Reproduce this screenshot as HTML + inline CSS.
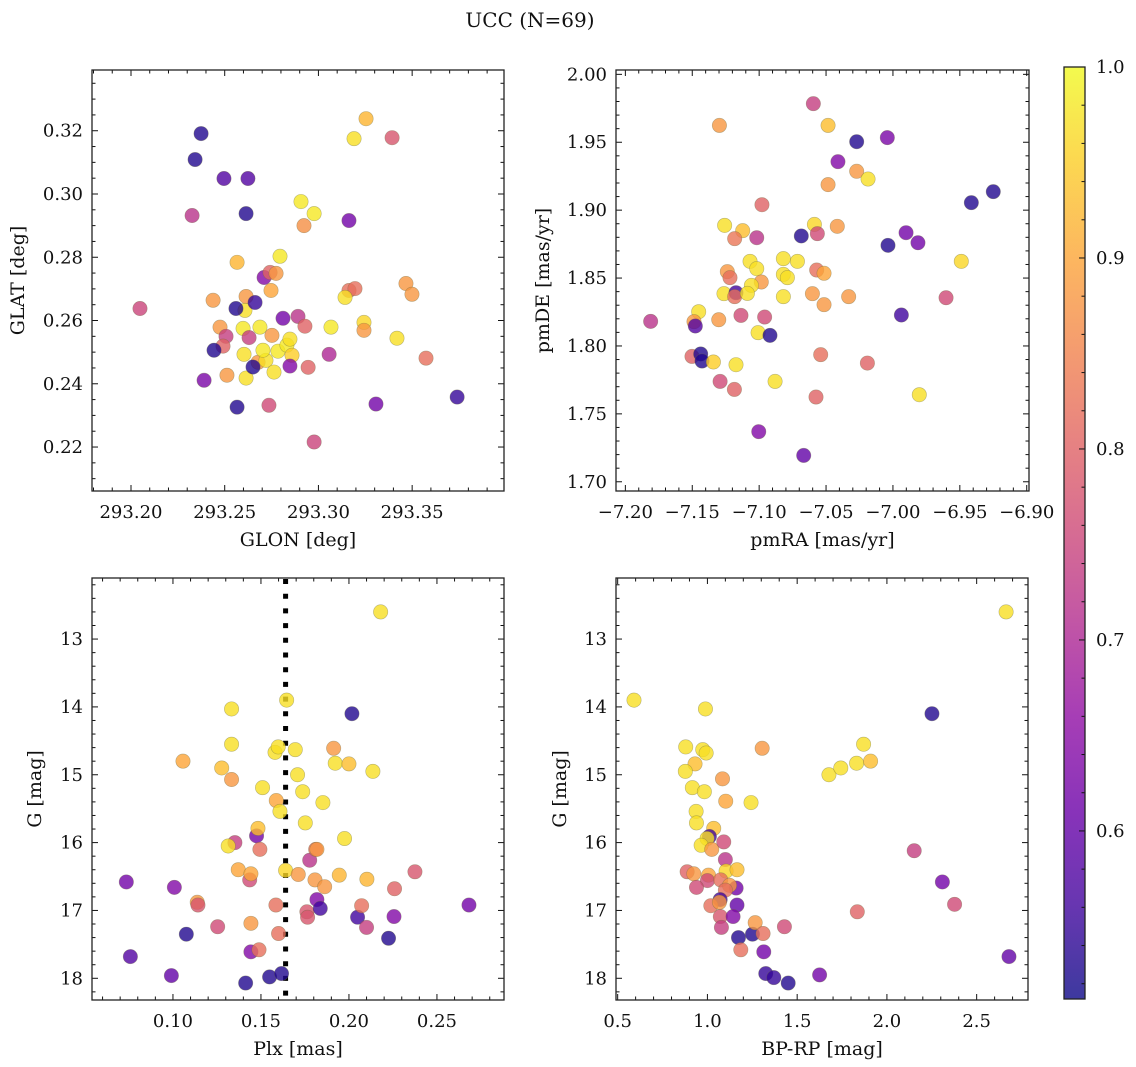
<!DOCTYPE html>
<html><head><meta charset="utf-8"><title>UCC (N=69)</title>
<style>
html,body{margin:0;padding:0;background:#fff;}
svg{display:block;font-family:"DejaVu Serif","Liberation Serif",serif;}
</style></head>
<body>
<svg id="fig" width="1136" height="1067" viewBox="0 0 1136 1067" xmlns="http://www.w3.org/2000/svg">
<rect x="0" y="0" width="1136" height="1067" fill="#fff"/>
<text x="530" y="27" font-size="20" text-anchor="middle" fill="#111">UCC (N=69)</text>
</svg>
<script>
// ---------- Panel 1: GLON vs GLAT ----------
const glonP1 = [293.2374,293.2342,293.2326,293.2496,293.2624,293.2614,293.2048,293.2438,293.2566,293.2614,293.2608,293.2560,293.2662,293.2710,293.2742,293.2774,293.2795,293.2747,293.2475,293.2507,293.2491,293.2443,293.2390,293.2512,293.2566,293.2598,293.2630,293.2603,293.2614,293.2688,293.2678,293.2720,293.2704,293.2752,293.2763,293.2736,293.2784,293.2811,293.2832,293.2848,293.2859,293.2848,293.2907,293.2977,293.2923,293.2891,293.2928,293.2945,293.2977,293.3067,293.3057,293.3163,293.3190,293.3254,293.3163,293.3195,293.3142,293.3243,293.3243,293.3393,293.3467,293.3499,293.3419,293.3574,293.3307,293.3740,293.2651];
const glatP1 = [0.3191,0.3109,0.2932,0.3049,0.3049,0.2938,0.2638,0.2664,0.2784,0.2676,0.2632,0.2638,0.2657,0.2736,0.2752,0.2749,0.2803,0.2695,0.2579,0.2550,0.2519,0.2506,0.2411,0.2427,0.2326,0.2575,0.2546,0.2493,0.2418,0.2579,0.2468,0.2474,0.2506,0.2553,0.2437,0.2332,0.2503,0.2607,0.2522,0.2541,0.2490,0.2456,0.2976,0.2938,0.2900,0.2613,0.2582,0.2452,0.2216,0.2579,0.2493,0.2916,0.3175,0.3238,0.2695,0.2701,0.2673,0.2594,0.2569,0.3178,0.2717,0.2683,0.2544,0.2481,0.2336,0.2358,0.2453];
const probP1 = [0.53,0.53,0.72,0.58,0.58,0.53,0.75,0.88,0.92,0.88,0.97,0.53,0.55,0.64,0.80,0.88,0.98,0.90,0.88,0.74,0.80,0.53,0.63,0.88,0.53,0.98,0.74,0.97,0.97,0.98,0.88,0.97,0.98,0.88,0.97,0.76,0.98,0.62,0.98,0.97,0.95,0.64,0.98,0.98,0.87,0.72,0.80,0.80,0.75,0.98,0.70,0.62,0.97,0.92,0.82,0.82,0.97,0.96,0.88,0.78,0.88,0.88,0.97,0.82,0.62,0.55,0.53];

// ---------- Panel 2: pmRA vs pmDE ----------
const pmraP2 = [-7.1811,-7.1297,-7.0595,-7.0485,-7.0271,-7.0042,-7.0411,-7.0271,-7.0186,-7.0485,-6.9250,-6.9414,-7.0979,-7.1258,-7.1123,-7.1183,-7.1018,-7.0685,-7.0587,-7.0565,-7.0416,-7.0037,-6.9902,-6.9813,-6.9489,-7.1068,-7.1018,-7.1238,-7.1218,-7.0819,-7.0714,-7.0819,-7.0789,-7.0570,-7.0515,-7.0984,-7.1058,-7.1263,-7.1173,-7.1183,-7.1088,-7.0819,-7.0602,-7.0331,-7.0515,-6.9603,-7.1452,-7.1487,-7.1477,-7.1302,-7.1136,-7.0959,-6.9937,-7.1008,-7.0919,-7.1502,-7.1437,-7.1427,-7.1342,-7.1173,-7.0540,-7.0191,-7.1292,-7.1185,-7.0881,-7.0575,-6.9803,-7.1003,-7.0667];
const pmdeP2 = [1.8181,1.9624,1.9784,1.9624,1.9504,1.9534,1.9357,1.9286,1.9229,1.9188,1.9136,1.9055,1.9040,1.8888,1.8849,1.8790,1.8797,1.8810,1.8895,1.8827,1.8881,1.8741,1.8834,1.8760,1.8623,1.8623,1.8569,1.8547,1.8503,1.8643,1.8623,1.8527,1.8503,1.8559,1.8535,1.8471,1.8446,1.8385,1.8392,1.8363,1.8387,1.8363,1.8385,1.8363,1.8304,1.8355,1.8252,1.8179,1.8147,1.8193,1.8225,1.8213,1.8228,1.8098,1.8078,1.7923,1.7941,1.7889,1.7882,1.7862,1.7936,1.7874,1.7739,1.7680,1.7739,1.7624,1.7641,1.7369,1.7194];
const probP2 = [0.72,0.88,0.74,0.93,0.53,0.63,0.64,0.88,0.97,0.88,0.53,0.53,0.80,0.97,0.93,0.83,0.72,0.53,0.96,0.76,0.88,0.53,0.62,0.62,0.96,0.97,0.97,0.88,0.82,0.97,0.97,0.97,0.97,0.82,0.90,0.88,0.97,0.97,0.56,0.82,0.97,0.97,0.88,0.88,0.88,0.76,0.97,0.88,0.58,0.88,0.76,0.76,0.56,0.97,0.53,0.80,0.53,0.53,0.95,0.97,0.82,0.80,0.76,0.80,0.97,0.80,0.97,0.64,0.60];

// ---------- Panel 3: Plx vs G ----------
const plxP3 = [0.0735,0.0758,0.1008,0.0991,0.1076,0.1057,0.1138,0.1142,0.1254,0.1277,0.1333,0.1333,0.1333,0.1352,0.1314,0.1371,0.1436,0.1443,0.1443,0.1443,0.1489,0.1413,0.1475,0.1483,0.1494,0.1509,0.1549,0.1580,0.1598,0.1587,0.1608,0.1585,0.1600,0.1617,0.1646,0.1640,0.1695,0.1708,0.1737,0.1752,0.1712,0.1777,0.1811,0.1818,0.1807,0.1761,0.1765,0.1818,0.1837,0.1852,0.1862,0.1913,0.1922,0.1945,0.1975,0.2000,0.2017,0.2049,0.2072,0.2100,0.2102,0.2136,0.2180,0.2225,0.2256,0.2259,0.2375,0.2682];
const gP3 = [16.58,17.68,16.66,17.96,17.35,14.80,16.88,16.92,17.24,14.90,14.03,14.55,15.07,16.00,16.05,16.40,16.55,16.46,17.19,17.61,17.58,18.07,15.90,15.79,16.10,15.19,17.98,14.67,14.59,15.38,15.54,16.92,17.34,17.93,13.90,16.41,14.63,15.00,15.25,15.71,16.47,16.26,16.10,16.10,16.55,17.02,17.10,16.84,16.97,15.41,16.65,14.61,14.83,16.48,15.94,14.84,14.10,17.10,16.93,17.25,16.54,14.95,12.60,17.41,17.09,16.68,16.43,16.92];
const probP3 = [0.62,0.58,0.64,0.60,0.53,0.90,0.88,0.78,0.76,0.93,0.97,0.97,0.88,0.74,0.97,0.90,0.76,0.90,0.88,0.64,0.82,0.53,0.62,0.93,0.82,0.97,0.53,0.97,0.97,0.90,0.97,0.82,0.82,0.53,0.97,0.96,0.97,0.97,0.97,0.97,0.88,0.72,0.82,0.88,0.88,0.78,0.78,0.64,0.56,0.97,0.88,0.88,0.97,0.92,0.97,0.93,0.53,0.56,0.82,0.74,0.92,0.97,0.97,0.53,0.64,0.80,0.78,0.62];
const plxRef = 0.164;

// ---------- Panel 4: BP-RP vs G ----------
const bprpP4 = [0.591,0.989,0.879,0.974,0.993,0.931,0.877,1.305,1.084,0.916,0.983,1.102,1.243,0.937,0.939,1.035,1.011,0.998,0.965,1.024,1.091,1.100,0.887,0.924,1.006,1.000,0.939,1.104,1.165,1.074,1.160,1.123,1.100,1.071,1.019,1.067,1.165,1.072,1.143,1.078,1.173,1.186,1.251,1.266,1.310,1.314,1.325,1.370,1.450,1.429,1.625,1.835,1.677,1.743,1.831,1.870,1.909,2.152,2.251,2.309,2.377,2.664,2.680];
const gP4 = [13.90,14.03,14.59,14.63,14.68,14.84,14.95,14.61,15.06,15.19,15.25,15.39,15.41,15.54,15.71,15.79,15.91,15.94,16.04,16.10,15.99,16.25,16.43,16.46,16.48,16.56,16.66,16.42,16.40,16.55,16.67,16.63,16.70,16.84,16.93,16.88,16.92,17.09,17.09,17.25,17.40,17.58,17.35,17.18,17.34,17.61,17.93,17.99,18.07,17.24,17.95,17.02,15.00,14.90,14.83,14.55,14.80,16.12,14.10,16.58,16.91,12.60,17.68];
const probP4 = [0.97,0.97,0.97,0.97,0.97,0.93,0.97,0.88,0.88,0.97,0.97,0.90,0.97,0.97,0.97,0.93,0.56,0.97,0.97,0.88,0.76,0.72,0.80,0.88,0.90,0.76,0.76,0.96,0.93,0.82,0.62,0.88,0.82,0.56,0.82,0.88,0.60,0.78,0.64,0.74,0.53,0.82,0.53,0.88,0.82,0.62,0.55,0.55,0.53,0.76,0.62,0.80,0.97,0.97,0.97,0.97,0.93,0.74,0.53,0.62,0.76,0.97,0.60];

// ---------- Colorbar ----------
const cbMin = 0.512, cbMax = 1.0;
const cbTicks = [0.6,0.7,0.8,0.9,1.0];

const NS = "http://www.w3.org/2000/svg";
const svg = document.getElementById('fig');
const plasmaStops = [[0,[13,8,135]],[0.1,[65,4,157]],[0.2,[106,0,168]],[0.3,[143,13,164]],[0.4,[177,42,144]],[0.5,[204,71,120]],[0.6,[225,100,98]],[0.7,[242,132,75]],[0.8,[252,166,54]],[0.9,[252,206,37]],[1,[240,249,33]]];
function plasma(t){
  t=Math.max(0,Math.min(1,t));
  for(let i=1;i<plasmaStops.length;i++){
    if(t<=plasmaStops[i][0]){
      const a=plasmaStops[i-1],b=plasmaStops[i],f=(t-a[0])/(b[0]-a[0]);
      const c=a[1].map((v,k)=>Math.round(v+(b[1][k]-v)*f));
      return 'rgb('+c.join(',')+')';
    }
  }
  return 'rgb(240,249,33)';
}
function el(tag,attrs,parent){
  const e=document.createElementNS(NS,tag);
  for(const k in attrs) e.setAttribute(k,attrs[k]);
  (parent||svg).appendChild(e);
  return e;
}
function fmtMinus(s){return s.replace('-','\u2212');}

function makeAxes(cfg){
  const g=el('g',{});
  
  
  const X=v=>cfg.bx0+(v-cfg.xlim[0])/(cfg.xlim[1]-cfg.xlim[0])*(cfg.bx1-cfg.bx0);
  const Y=v=>cfg.by1-(v-cfg.ylim[0])/(cfg.ylim[1]-cfg.ylim[0])*(cfg.by1-cfg.by0);
  const tickG=el('g',{stroke:'#111','stroke-width':'1'},g);
  
  
  const lo=Math.min(cfg.xlim[0],cfg.xlim[1]), hi=Math.max(cfg.xlim[0],cfg.xlim[1]);
  for(let v=Math.ceil(lo/cfg.xminor-1e-6)*cfg.xminor; v<=hi+1e-9; v+=cfg.xminor){
    const x=X(v); const isMaj=cfg.xticks.some(t=>Math.abs(t-v)<cfg.xminor/10);
    const L=isMaj?6:3.5;
    el('line',{x1:x,x2:x,y1:cfg.by1,y2:cfg.by1-L},tickG);
    el('line',{x1:x,x2:x,y1:cfg.by0,y2:cfg.by0+L},tickG);
  }
  const ylo=Math.min(cfg.ylim[0],cfg.ylim[1]), yhi=Math.max(cfg.ylim[0],cfg.ylim[1]);
  for(let v=Math.ceil(ylo/cfg.yminor-1e-6)*cfg.yminor; v<=yhi+1e-9; v+=cfg.yminor){
    const y=Y(v); const isMaj=cfg.yticks.some(t=>Math.abs(t-v)<cfg.yminor/10);
    const L=isMaj?6:3.5;
    el('line',{x1:cfg.bx0,x2:cfg.bx0+L,y1:y,y2:y},tickG);
    el('line',{x1:cfg.bx1,x2:cfg.bx1-L,y1:y,y2:y},tickG);
  }
  cfg.xticks.forEach(v=>{
    const t=el('text',{x:X(v),y:cfg.by1+27,'font-size':'18','text-anchor':'middle',fill:'#111'},g);
    
    
    t.textContent=fmtMinus(v.toFixed(cfg.xdec));
  });
  cfg.yticks.forEach(v=>{
    const t=el('text',{x:cfg.bx0-9,y:Y(v)+6,'font-size':'18','text-anchor':'end',fill:'#111'},g);
    
    
    t.textContent=fmtMinus(v.toFixed(cfg.ydec));
  });
  const xl=el('text',{x:(cfg.bx0+cfg.bx1)/2,y:cfg.by1+55,'font-size':'19','text-anchor':'middle',fill:'#111'},g);
  
  
  xl.textContent=cfg.xlabel;
  const yc=(cfg.by0+cfg.by1)/2;
  const yl=el('text',{x:cfg.ylx,y:yc,'font-size':'19','text-anchor':'middle',fill:'#111',transform:'rotate(-90 '+cfg.ylx+' '+yc+')'},g);
  
  
  yl.textContent=cfg.ylabel;
  const cid='clip-'+cfg.name;
  const cp=el('clipPath',{id:cid},g);
  el('rect',{x:cfg.bx0,y:cfg.by0,width:cfg.bx1-cfg.bx0,height:cfg.by1-cfg.by0},cp);
  const pg=el('g',{'clip-path':'url(#'+cid+')'},g);
  
  
  if(cfg.vline!==undefined){
    const vl=el('line',{x1:X(cfg.vline),x2:X(cfg.vline),y1:cfg.by0+1,y2:cfg.by1,stroke:'#000','stroke-width':'5','stroke-dasharray':'5 9.7'},pg);
    
    
  }
  cfg.xs.forEach((xv,i)=>{
    const c=el('circle',{cx:X(xv),cy:Y(cfg.ys[i]),r:7.2,fill:plasma((cfg.cs[i]-cbMin)/(cbMax-cbMin)),'fill-opacity':'0.8',stroke:'#6b6b40','stroke-opacity':'0.45','stroke-width':'0.6'},pg);
    
    
  });
  el('rect',{x:cfg.bx0,y:cfg.by0,width:cfg.bx1-cfg.bx0,height:cfg.by1-cfg.by0,fill:'none',stroke:'#222','stroke-width':'1.3'},g);
}

makeAxes({name:'glon-glat-panel',bx0:92,bx1:504,by0:70,by1:491,xlim:[293.1792,293.3990],ylim:[0.2061,0.3392],
  xticks:[293.20,293.25,293.30,293.35],yticks:[0.22,0.24,0.26,0.28,0.30,0.32],xminor:0.01,yminor:0.005,xdec:2,ydec:2,
  xlabel:'GLON [deg]',ylabel:'GLAT [deg]',ylx:24,xs:glonP1,ys:glatP1,cs:probP1});
makeAxes({name:'pm-panel',bx0:616,bx1:1029,by0:70,by1:491,xlim:[-7.2070,-6.8983],ylim:[1.6932,2.0032],
  xticks:[-7.20,-7.15,-7.10,-7.05,-7.00,-6.95,-6.90],yticks:[1.70,1.75,1.80,1.85,1.90,1.95,2.00],xminor:0.01,yminor:0.01,xdec:2,ydec:2,
  xlabel:'pmRA [mas/yr]',ylabel:'pmDE [mas/yr]',ylx:549,xs:pmraP2,ys:pmdeP2,cs:probP2});
makeAxes({name:'plx-g-panel',bx0:92,bx1:504,by0:578,by1:1000,xlim:[0.0540,0.2881],ylim:[18.320,12.100],
  xticks:[0.10,0.15,0.20,0.25],yticks:[13,14,15,16,17,18],xminor:0.01,yminor:0.2,xdec:2,ydec:0,
  xlabel:'Plx [mas]',ylabel:'G [mag]',ylx:41,xs:plxP3,ys:gP3,cs:probP3,vline:plxRef});
makeAxes({name:'cmd-panel',bx0:616,bx1:1028,by0:578,by1:1000,xlim:[0.4907,2.786],ylim:[18.320,12.100],
  xticks:[0.5,1.0,1.5,2.0,2.5],yticks:[13,14,15,16,17,18],xminor:0.1,yminor:0.2,xdec:1,ydec:0,
  xlabel:'BP-RP [mag]',ylabel:'G [mag]',ylx:566,xs:bprpP4,ys:gP4,cs:probP4});

(function(){
  const cx0=1064,cx1=1085,cy0=67,cy1=999;
  const g=el('g',{});
  
  
  const defs=el('defs',{},g);
  const lg=el('linearGradient',{id:'cbgrad',x1:'0',y1:'1',x2:'0',y2:'0'},defs);
  for(let i=0;i<=20;i++){el('stop',{offset:(i/20),'stop-color':plasma(i/20)},lg);}
  el('rect',{x:cx0,y:cy0,width:cx1-cx0,height:cy1-cy0,fill:'url(#cbgrad)','fill-opacity':'0.8'},g);
  const Y=v=>cy1-(v-cbMin)/(cbMax-cbMin)*(cy1-cy0);
  for(let v=0.52;v<=1.0001;v+=0.02){
    const y=Y(v); const maj=cbTicks.some(t=>Math.abs(t-v)<0.001);
    el('line',{x1:cx1,x2:cx1-(maj?6:3.5),y1:y,y2:y,stroke:'#111','stroke-width':'1'},g);
  }
  cbTicks.forEach(v=>{
    const t=el('text',{x:cx1+11,y:Y(v)+6,'font-size':'18',fill:'#111'},g);
    
    
    t.textContent=v.toFixed(1);
  });
  el('rect',{x:cx0,y:cy0,width:cx1-cx0,height:cy1-cy0,fill:'none',stroke:'#222','stroke-width':'1.3'},g);
})();
</script>
</body></html>
